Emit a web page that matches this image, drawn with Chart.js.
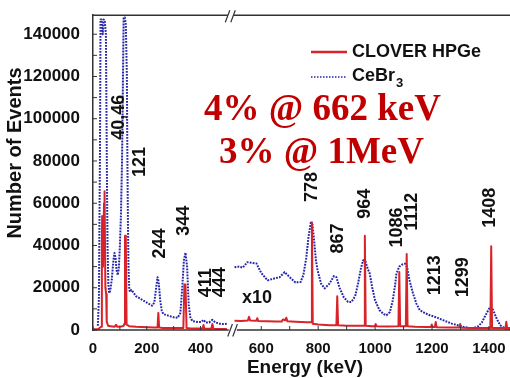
<!DOCTYPE html>
<html>
<head>
<meta charset="utf-8">
<script src="https://cdn.jsdelivr.net/npm/chart.js@4"></script>
<style>
  html, body { margin: 0; padding: 0; background: #fff; }
  canvas { display: block; }
</style>
</head>
<body>
<canvas id="spectrum" width="510" height="378"></canvas>
<script>
// CLOVER HPGe spectrum, low energy part (keV / counts)
const hpgeLowE = [0, 20, 30, 33, 34, 37, 41, 43, 46, 47, 49, 51, 56, 65, 80, 86, 90, 105, 114, 117, 119, 122, 125, 135, 160, 200, 230, 240, 243, 246, 260, 300, 336, 340, 344, 348, 360, 390, 408, 411, 414, 440, 444, 448, 470, 498];
const hpgeLowN = [300, 500, 1500, 40000, 54000, 30000, 60000, 65700, 20000, 19000, 17000, 4000, 2000, 1800, 1500, 2500, 1500, 1600, 2000, 3000, 44600, 44600, 2500, 1800, 1500, 1300, 1200, 1200, 8100, 1200, 1000, 900, 900, 21500, 21500, 900, 800, 700, 700, 2400, 700, 600, 2800, 600, 500, 500];

// CLOVER HPGe spectrum, high energy part (shown x10)
const hpgeHighE = [506, 530, 553, 557, 561, 583, 586, 589, 620, 650, 672, 676, 684, 688, 692, 720, 760, 775, 778, 781, 800, 840, 864, 867, 870, 900, 940, 961, 964, 967, 990, 999, 1002, 1005, 1040, 1082, 1085, 1088, 1108, 1111, 1114, 1140, 1180, 1196, 1199, 1202, 1210, 1213, 1216, 1260, 1296, 1299, 1302, 1350, 1390, 1405, 1408, 1411, 1440, 1458, 1461, 1464, 1474];
const hpgeHighN = [4400, 4300, 4500, 6200, 4500, 4400, 5600, 4300, 4200, 4000, 4000, 5000, 4600, 5800, 4100, 3900, 3700, 3700, 51000, 3000, 2600, 2300, 2300, 16000, 2200, 2000, 2000, 2000, 44600, 2000, 1800, 1800, 2800, 1800, 1700, 1800, 27400, 1800, 1800, 36000, 1800, 1500, 1400, 1400, 2600, 1400, 1400, 3800, 1300, 1200, 1200, 2800, 1100, 1000, 1000, 1000, 39600, 1000, 900, 900, 3900, 900, 900];

// CeBr3 spectrum, low energy part
const cebrLowE = [18, 22, 26, 28, 32, 36, 40, 44, 48, 50, 52, 54, 57, 60, 64, 70, 76, 80, 84, 88, 92, 96, 100, 104, 108, 112, 114, 118, 122, 126, 128, 130, 132, 135, 138, 142, 146, 160, 180, 200, 220, 228, 234, 240, 244, 250, 256, 262, 280, 300, 315, 325, 332, 338, 344, 350, 356, 362, 370, 390, 402, 411, 420, 432, 444, 455, 470, 485, 498];
const cebrLowN = [2000, 15000, 85000, 147000, 147000, 140000, 147000, 146000, 140000, 105000, 70000, 40000, 22000, 17500, 18500, 24000, 33000, 36500, 34000, 28000, 26000, 29000, 40000, 55000, 80000, 125000, 148000, 148000, 145000, 120000, 80000, 50000, 30000, 19000, 18000, 19000, 18500, 16000, 14500, 13000, 11500, 13000, 19000, 25000, 23000, 14000, 9000, 7500, 6800, 6000, 5800, 8000, 20000, 33000, 36600, 30000, 12000, 6000, 4200, 3800, 3800, 4800, 3500, 3600, 4800, 3600, 3000, 2800, 3000];

// CeBr3 spectrum, high energy part
const cebrHighE = [506, 520, 535, 551, 565, 583, 600, 622, 646, 665, 682, 700, 720, 738, 748, 758, 766, 774, 780, 786, 792, 798, 810, 823, 840, 855, 864, 875, 890, 905, 917, 930, 940, 950, 958, 966, 974, 981, 990, 1000, 1015, 1030, 1040, 1052, 1062, 1070, 1075, 1085, 1095, 1105, 1112, 1120, 1133, 1145, 1157, 1175, 1192, 1215, 1238, 1270, 1309, 1330, 1344, 1360, 1375, 1390, 1404, 1415, 1425, 1439, 1455, 1474];
const cebrHighN = [29700, 30000, 29500, 32100, 31800, 31500, 27000, 23500, 24400, 25000, 27400, 25000, 22500, 22700, 26000, 34000, 44000, 50800, 50000, 42000, 33000, 28200, 22000, 19700, 22000, 25500, 25000, 20000, 15500, 13300, 13300, 16000, 22000, 29000, 33000, 32500, 29000, 26800, 20000, 14000, 9500, 7500, 7000, 8500, 14000, 21000, 26800, 30000, 31000, 31400, 30000, 24000, 17400, 12500, 9400, 8000, 7000, 6000, 4700, 3000, 1600, 1000, 900, 1500, 3500, 7500, 10900, 9500, 6000, 2300, 800, 0];

// peak labels: text, energy, count where the label starts
const peakText = ['40,46', '121', '244', '344', '411', '444', '778', '867', '964', '1086', '1112', '1213', '1299', '1408'];
const peakLabelE = [97, 175, 249, 338, 420, 472, 778, 870, 964, 1077, 1130, 1210, 1309, 1404];
const peakLabelN = [90000, 72400, 33800, 44600, 15500, 15500, 60600, 36200, 52600, 39000, 47000, 16400, 15500, 48400];

// axis ticks (labels only at the multiples of 200 on x)
const yTicks = [0, 20000, 40000, 60000, 80000, 100000, 120000, 140000];
const xTicksLow = [0, 100, 200, 300, 400];
const xTicksHigh = [600, 700, 800, 900, 1000, 1100, 1200, 1300, 1400];

const red = '#d8232a';
const blue = '#2424a8';

function series(label, xs, ys, axis, color, dash) {
    return {
        label: label,
        data: xs.map((e, i) => ({ x: e, y: ys[i] })),
        xAxisID: axis,
        borderColor: color,
        borderWidth: 2,
        borderDash: dash,
        borderJoinStyle: 'round',
        pointRadius: 0,
        tension: 0,
        fill: false
    };
}

function xAxis(min, max, weight, tickValues) {
    return {
        type: 'linear',
        position: 'bottom',
        stack: 'energy',
        stackWeight: weight,
        min: min,
        max: max,
        grid: { display: false },
        border: { display: false },
        afterBuildTicks: s => { s.ticks = tickValues.map(v => ({ value: v })); },
        ticks: {
            autoSkip: false,
            maxRotation: 0,
            padding: 2,
            color: '#111',
            font: { family: 'Liberation Sans', size: 15, weight: 'bold' },
            callback: v => v % 200 === 0 ? String(v) : ''
        },
        afterFit: s => { s.height = 48; s.paddingLeft = 0; s.paddingRight = 0; }
    };
}

// frame with the axis break, inward ticks, titles, legend and labels
const decor = {
    id: 'decor',
    afterDraw(chart) {
        const ctx = chart.ctx;
        const area = chart.chartArea;
        const xL = chart.scales.xL, xR = chart.scales.xR, y = chart.scales.y;
        const cut = xL.right;
        ctx.save();

        ctx.strokeStyle = '#333';
        ctx.lineWidth = 1.5;
        ctx.beginPath();
        ctx.moveTo(area.left, area.bottom); ctx.lineTo(cut - 4, area.bottom);
        ctx.moveTo(cut + 4, area.bottom); ctx.lineTo(area.right, area.bottom);
        ctx.moveTo(area.left, area.top); ctx.lineTo(cut - 5, area.top);
        ctx.moveTo(cut + 1, area.top); ctx.lineTo(area.right, area.top);
        ctx.stroke();

        ctx.lineWidth = 1.2;
        ctx.beginPath();
        for (const dx of [-5, 0]) {
            ctx.moveTo(cut + dx, area.bottom + 6.5); ctx.lineTo(cut + dx + 4.6, area.bottom - 6);
        }
        for (const dx of [-7.5, -2]) {
            ctx.moveTo(cut + dx, area.top + 7); ctx.lineTo(cut + dx + 4.5, area.top - 5);
        }
        ctx.stroke();

        // inward tick marks (minor ones halfway between labelled y ticks)
        ctx.lineWidth = 1;
        ctx.beginPath();
        y.ticks.forEach(t => {
            [t.value, t.value + 10000].forEach(v => {
                if (v > y.max) return;
                const py = y.getPixelForValue(v);
                ctx.moveTo(area.left, py); ctx.lineTo(area.left + 4, py);
            });
        });
        [xL, xR].forEach(sx => sx.ticks.forEach(t => {
            const px = sx.getPixelForValue(t.value);
            ctx.moveTo(px, area.bottom); ctx.lineTo(px, area.bottom - 4);
        }));
        ctx.stroke();

        // axis titles
        ctx.fillStyle = '#111';
        ctx.font = 'bold 19px "Liberation Sans"';
        ctx.textAlign = 'center';
        ctx.textBaseline = 'middle';
        ctx.fillText('Energy (keV)', 305, 368);
        ctx.save();
        ctx.translate(15, 153);
        ctx.rotate(-Math.PI / 2);
        ctx.font = 'bold 20px "Liberation Sans"';
        ctx.fillText('Number of Events', 0, 0);
        ctx.restore();

        // peak labels, rotated
        ctx.font = 'bold 18px "Liberation Sans"';
        ctx.textAlign = 'left';
        peakText.forEach((txt, i) => {
            const e = peakLabelE[i];
            const sx = e < 500 ? xL : xR;
            ctx.save();
            ctx.translate(sx.getPixelForValue(e), y.getPixelForValue(peakLabelN[i]));
            ctx.rotate(-Math.PI / 2);
            ctx.fillText(txt, 0, 0);
            ctx.restore();
        });
        ctx.textAlign = 'center';
        ctx.fillText('x10', xR.getPixelForValue(585), y.getPixelForValue(15000));

        // legend
        ctx.lineWidth = 2.5;
        ctx.strokeStyle = red;
        ctx.beginPath(); ctx.moveTo(311, 52); ctx.lineTo(347, 52); ctx.stroke();
        ctx.strokeStyle = blue;
        ctx.lineWidth = 1.5;
        ctx.setLineDash([1.5, 1.5]);
        ctx.beginPath(); ctx.moveTo(311, 77); ctx.lineTo(347, 77); ctx.stroke();
        ctx.setLineDash([]);
        ctx.textAlign = 'left';
        ctx.font = 'bold 18px "Liberation Sans"';
        ctx.fillText('CLOVER HPGe', 352, 52);
        ctx.fillText('CeBr', 352, 76);
        const w = ctx.measureText('CeBr').width;
        ctx.font = 'bold 13px "Liberation Sans"';
        ctx.fillText('3', 352 + w + 1, 83);

        // resolution note
        ctx.fillStyle = '#c00000';
        ctx.font = 'bold 37px "Liberation Serif"';
        ctx.textBaseline = 'alphabetic';
        ctx.fillText('4% @ 662 keV', 204, 120);
        ctx.fillText('3% @ 1MeV', 219, 163);

        ctx.restore();
    }
};

new Chart(document.getElementById('spectrum'), {
    type: 'line',
    data: {
        datasets: [
            series('CLOVER HPGe', hpgeLowE, hpgeLowN, 'xL', red, []),
            series('CLOVER HPGe', hpgeHighE, hpgeHighN, 'xR', red, []),
            series('CeBr3', cebrLowE, cebrLowN, 'xL', blue, [1.8, 1.2]),
            series('CeBr3', cebrHighE, cebrHighN, 'xR', blue, [1.8, 1.2])
        ]
    },
    options: {
        responsive: false,
        animation: false,
        layout: { padding: { top: 13, left: 0, right: 0, bottom: 0 } },
        plugins: {
            legend: { display: false },
            tooltip: { enabled: false }
        },
        scales: {
            xL: xAxis(0, 520, 139.8, xTicksLow),
            xR: xAxis(500, 1474, 277.2, xTicksHigh),
            y: {
                type: 'linear',
                position: 'left',
                min: 0,
                max: 149000,
                grid: { display: false },
                border: { display: true, color: '#333', width: 1.5 },
                afterBuildTicks: s => { s.ticks = yTicks.map(v => ({ value: v })); },
                ticks: {
                    autoSkip: false,
                    padding: 5,
                    color: '#111',
                    font: { family: 'Liberation Sans', size: 17, weight: 'bold' },
                    callback: v => String(v)
                },
                afterFit: s => { s.width = 93; }
            }
        }
    },
    plugins: [decor]
});
</script>
</body>
</html>
